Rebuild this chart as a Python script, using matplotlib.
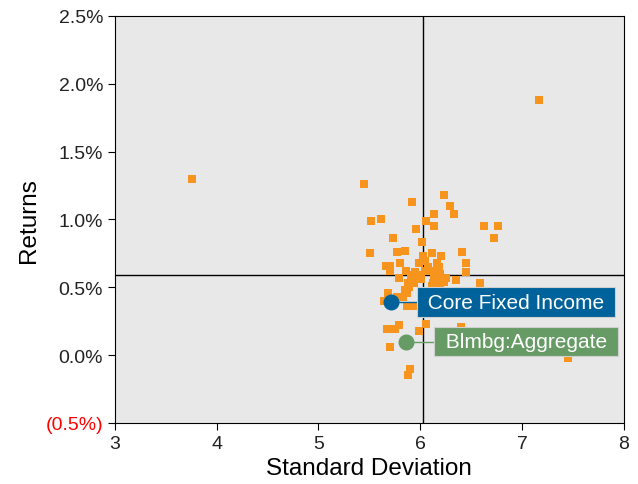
import matplotlib.pyplot as plt
from matplotlib.ticker import FuncFormatter

plt.rcParams['font.family'] = ['Liberation Sans', 'DejaVu Sans']

# peer universe (std dev, return %)
peer_x = [7.17, 3.76, 5.45, 5.92, 6.23, 6.29, 6.33, 6.13, 6.06, 6.13, 5.96, 5.52, 5.61,
          6.63, 6.76, 6.72, 5.73, 6.02, 5.77, 5.85, 5.51, 6.41, 6.03, 6.11, 6.20,
          6.45, 6.45, 5.80, 5.66, 5.70, 5.70, 5.99, 6.05, 6.08, 6.16, 6.18, 6.05, 6.11,
          5.86, 5.95, 5.92, 6.00, 6.19, 6.19, 5.79, 5.91, 5.96, 6.01, 6.13, 6.25, 6.35,
          5.88, 5.94, 6.12, 6.19, 6.23, 6.11, 5.89, 6.59, 5.85, 5.68, 5.87, 5.64, 5.83,
          5.77, 5.87, 5.95, 5.67, 5.75, 5.79, 5.99, 6.06, 5.70, 5.90, 5.88, 6.40, 7.45]
peer_y = [1.88, 1.30, 1.26, 1.13, 1.18, 1.10, 1.04, 1.04, 0.99, 0.95, 0.93, 0.99, 1.00,
          0.955, 0.955, 0.86, 0.86, 0.83, 0.76, 0.77, 0.75, 0.76, 0.73, 0.75, 0.73,
          0.68, 0.61, 0.68, 0.66, 0.66, 0.62, 0.68, 0.69, 0.65, 0.68, 0.65, 0.62, 0.62,
          0.62, 0.61, 0.59, 0.59, 0.60, 0.58, 0.57, 0.56, 0.56, 0.56, 0.56, 0.565, 0.55,
          0.53, 0.535, 0.53, 0.535, 0.54, 0.51, 0.50, 0.53, 0.48, 0.46, 0.455, 0.40, 0.425,
          0.43, 0.36, 0.36, 0.19, 0.19, 0.22, 0.18, 0.23, 0.06, -0.10, -0.15, 0.21, -0.02]

funds = ['Core Fixed Income', 'Blmbg:Aggregate']
fund_x = [5.71, 5.86]
fund_y = [0.39, 0.10]
fund_colors = ['#00629b', '#679b66']

median_x = 6.03
median_y = 0.59

yticks = [-0.5, 0.0, 0.5, 1.0, 1.5, 2.0, 2.5]
xticks = [3, 4, 5, 6, 7, 8]


def pct(v, pos=None):
    if v < 0:
        return '({:.1f}%)'.format(-v)
    return '{:.1f}%'.format(v)


fig = plt.figure(figsize=(6.38, 4.85), dpi=100)
ax = fig.add_axes([0.180, 0.126, 0.798, 0.839])
ax.set_facecolor('#e8e8e8')

ax.axvline(median_x, color='black', lw=1, zorder=1)
ax.axhline(median_y, color='black', lw=1, zorder=1)

ax.scatter(peer_x, peer_y, marker='s', s=30, color='#f7941d', linewidths=0, zorder=2)

# label offsets in data units (circle to text start)
label_dx = [0.31, 0.33]
for name, fx, fy, c, dx in zip(funds, fund_x, fund_y, fund_colors, label_dx):
    ax.plot([fx, fx + dx], [fy, fy], color=c, lw=1, zorder=3)
    ax.plot(fx, fy, 'o', ms=10.5, color=c, zorder=4)
    ax.text(fx + dx, fy, ' ' + name + ' ', color='white', fontsize=15, va='center', ha='left',
            zorder=5, bbox=dict(boxstyle='square,pad=0.25', fc=c, ec='#d0d0d0', lw=0.8))

ax.set_xlim(3, 8)
ax.set_ylim(-0.5, 2.5)
ax.set_xticks(xticks)
ax.set_yticks(yticks)
ax.yaxis.set_major_formatter(FuncFormatter(pct))
ax.tick_params(direction='out', length=5, labelsize=14, colors='black', labelcolor='#222222')
ax.get_yticklabels()[0].set_color('red')

ax.set_xlabel('Standard Deviation', fontsize=17.5)
ax.set_ylabel('Returns', fontsize=17.5)

plt.savefig('out.png', dpi=100)
